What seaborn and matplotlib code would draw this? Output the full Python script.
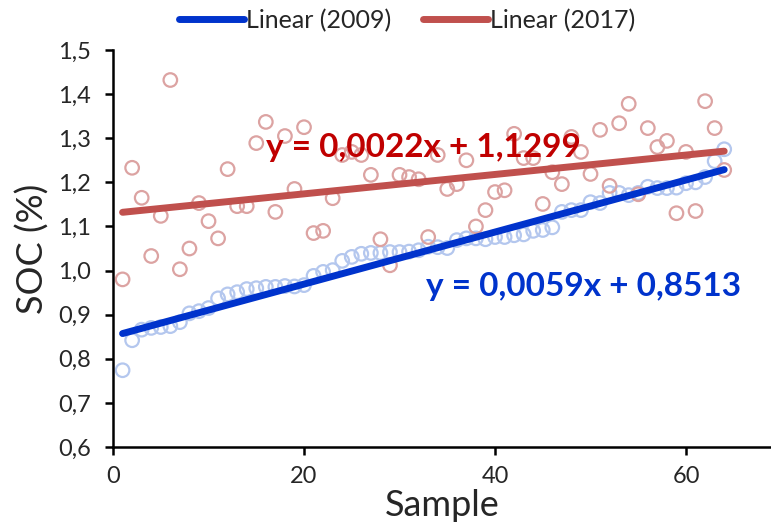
import matplotlib
matplotlib.use("Agg")
import matplotlib.pyplot as plt
import numpy as np
import pandas as pd
import seaborn as sns

# sample numbers and SOC values
sample = list(range(1, 65))

soc_2009 = [0.774, 0.842, 0.866, 0.870, 0.872, 0.874, 0.883, 0.903, 0.908, 0.915,
            0.937, 0.946, 0.951, 0.958, 0.960, 0.963, 0.963, 0.965, 0.964, 0.967,
            0.988, 0.997, 1.001, 1.022, 1.031, 1.038, 1.040, 1.040, 1.042, 1.042,
            1.043, 1.046, 1.054, 1.053, 1.051, 1.069, 1.073, 1.073, 1.071, 1.076,
            1.076, 1.080, 1.082, 1.090, 1.092, 1.098, 1.133, 1.137, 1.137, 1.155,
            1.153, 1.176, 1.176, 1.171, 1.176, 1.190, 1.187, 1.187, 1.188, 1.198,
            1.200, 1.212, 1.248, 1.275]

soc_2017 = [0.980, 1.233, 1.165, 1.033, 1.124, 1.432, 1.003, 1.050, 1.153, 1.112,
            1.073, 1.230, 1.146, 1.146, 1.289, 1.337, 1.133, 1.305, 1.185, 1.325,
            1.085, 1.090, 1.164, 1.262, 1.269, 1.262, 1.217, 1.071, 1.012, 1.217,
            1.212, 1.207, 1.076, 1.262, 1.185, 1.196, 1.250, 1.100, 1.137, 1.178,
            1.182, 1.310, 1.255, 1.255, 1.151, 1.223, 1.196, 1.303, 1.269, 1.219,
            1.319, 1.192, 1.334, 1.378, 1.173, 1.323, 1.280, 1.294, 1.130, 1.269,
            1.135, 1.384, 1.323, 1.228]

# trendline coefficients shown on the chart
slope_2009, icpt_2009 = 0.0059, 0.8513
slope_2017, icpt_2017 = 0.0022, 1.1299

eq_2009 = "y = 0,0059x + 0,8513"
eq_2017 = "y = 0,0022x + 1,1299"

y_ticks = [0.6, 0.7, 0.8, 0.9, 1.0, 1.1, 1.2, 1.3, 1.4, 1.5]
y_labels = ["0,6", "0,7", "0,8", "0,9", "1,0", "1,1", "1,2", "1,3", "1,4", "1,5"]
x_ticks = [0, 20, 40, 60]

blue_pt, blue_ln = "#b4c7ee", "#0033cc"
red_pt, red_ln = "#dca3a2", "#c0504d"

sns.set_style("ticks")
plt.rcParams["font.family"] = ["Lato", "DejaVu Sans"]

df = pd.DataFrame({"sample": sample, "y2009": soc_2009, "y2017": soc_2017})
x = np.array(sample)
df["fit2009"] = slope_2009 * x + icpt_2009
df["fit2017"] = slope_2017 * x + icpt_2017

fig = plt.figure(figsize=(7.71, 5.31), dpi=100)
ax = fig.add_axes([0.1466, 0.1582, 0.8534, 0.7476])

sns.scatterplot(data=df, x="sample", y="y2009", ax=ax, s=95, facecolor="none",
                edgecolor=blue_pt, linewidth=1.6, legend=False, zorder=2)
sns.scatterplot(data=df, x="sample", y="y2017", ax=ax, s=95, facecolor="none",
                edgecolor=red_pt, linewidth=1.6, legend=False, zorder=2)
sns.lineplot(data=df, x="sample", y="fit2009", ax=ax, color=blue_ln, lw=5,
             label="Linear (2009)", zorder=3, solid_capstyle="round")
sns.lineplot(data=df, x="sample", y="fit2017", ax=ax, color=red_ln, lw=5,
             label="Linear (2017)", zorder=3, solid_capstyle="round")

ax.text(32.5, 1.278, eq_2017, color="#c00000", fontsize=24, fontweight="bold",
        ha="center", va="center", zorder=4)
ax.text(49.3, 0.963, eq_2009, color=blue_ln, fontsize=24, fontweight="bold",
        ha="center", va="center", zorder=4)

ax.set_xlim(0, 68.9)
ax.set_ylim(0.6, 1.5)
ax.set_xticks(x_ticks)
ax.set_yticks(y_ticks)
ax.set_yticklabels(y_labels)
ax.tick_params(labelsize=17, width=1.8, length=6, color="black", labelcolor="#262626")
ax.tick_params(axis="y", pad=10)
ax.tick_params(axis="x", pad=8)
for side in ["left", "bottom"]:
    ax.spines[side].set_linewidth(1.8)
    ax.spines[side].set_color("black")
sns.despine(ax=ax)

ax.set_xlabel("Sample", fontsize=26, labelpad=1)
ax.set_ylabel("SOC (%)", fontsize=26, labelpad=6)

ax.legend(loc="center", bbox_to_anchor=(0.447, 1.075), ncol=2, frameon=False,
          fontsize=18, handlelength=2.6, handletextpad=0.05, columnspacing=1.3,
          borderaxespad=0)

fig.savefig("out.png", dpi=100)
